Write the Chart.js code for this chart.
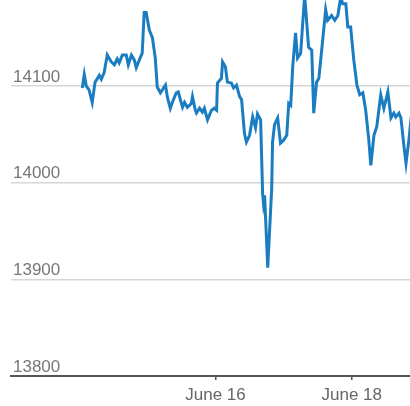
<!DOCTYPE html>
<html>
<head>
<meta charset="utf-8">
<script src="https://cdn.jsdelivr.net/npm/chart.js@4"></script>
<style>
	html, body { margin: 0; padding: 0; background: #fff; }
	#wrap { width: 410px; height: 406px; }
</style>
</head>
<body>
<div id="wrap"><canvas id="priceChart"></canvas></div>
<script>
// hours since June 13 00:00
const hours = [
	25.1, 25.8, 26.5, 27.5, 28.6, 29.6, 31.1, 31.8, 32.8, 33.9, 35.3, 36.4, 37.4, 38.1, 39.2, 40.6,
	41.3, 42.4, 43.4, 44.1, 45.2, 46.2, 46.9, 47.6, 48.7, 49.8, 50.8, 51.5, 52.6, 53.3, 54.4, 55.1,
	56.1, 56.8, 58.2, 58.9, 60.0, 60.4, 61.1, 62.1, 63.5, 63.9, 64.9, 65.3, 66.4, 67.4, 68.1, 69.2,
	70.6, 71.6, 72.4, 72.7, 74.1, 74.5, 75.5, 76.2, 77.6, 78.4, 79.4, 80.5, 81.2, 82.2, 82.9, 84.0,
	85.1, 86.1, 86.8, 87.9, 88.6, 88.9, 89.3, 90.4, 91.8, 92.1, 92.8, 93.9, 94.9, 96.0, 97.1, 97.8,
	98.5, 99.2, 100.2, 100.9, 102.0, 103.4, 104.8, 105.9, 106.6, 107.6, 108.4, 109.4, 110.8, 111.5,
	112.9, 114.0, 115.1, 116.1, 116.8, 117.9, 118.6, 119.6, 120.7, 121.8, 122.8, 123.9, 124.9, 126.0,
	126.7, 127.8, 128.8, 130.2, 131.3, 132.7, 133.8, 134.8, 135.5, 136.6, 137.3, 138.4, 139.1, 140.1, 141.2
];
const prices = [
	14098, 14112, 14100, 14096, 14083, 14104, 14111, 14107, 14114, 14132, 14125, 14122, 14128, 14124, 14132, 14132,
	14122, 14132, 14127, 14119, 14127, 14134, 14176, 14176, 14158, 14150, 14129, 14099, 14093, 14096, 14101, 14088,
	14077, 14083, 14093, 14094, 14082, 14078, 14083, 14078, 14082, 14089, 14075, 14072, 14077, 14073, 14077, 14065,
	14075, 14077, 14075, 14103, 14108, 14125, 14120, 14104, 14103, 14098, 14101, 14089, 14086, 14051, 14042, 14049,
	14068, 14057, 14071, 14065, 13989, 13979, 13987, 13912, 13994, 14042, 14060, 14067, 14041, 14044, 14049, 14082,
	14080, 14120, 14155, 14129, 14134, 14194, 14140, 14137, 14072, 14104, 14108, 14137, 14179, 14168,
	14173, 14168, 14173, 14192, 14185, 14185, 14161, 14161, 14127, 14101, 14091, 14093, 14075, 14044,
	14018, 14049, 14058, 14091, 14077, 14094, 14067, 14072, 14068, 14072, 14067, 14037, 14020, 14044, 14075
];
const tickHours = [72, 120];
const tickLabels = ["June 16", "June 18"];
const yTicks = [13800, 13900, 14000, 14100];

document.addEventListener("DOMContentLoaded", function () {
	const el = document.getElementById("priceChart");

	new Chart(el, {
		type: "line",
		data: {
			datasets: [{
				data: hours.map((h, i) => ({ x: h, y: prices[i] })),
				borderColor: "#1a7dc1",
				borderWidth: 3,
				pointRadius: 0,
				tension: 0,
				fill: false
			}]
		},
		options: {
			responsive: true,
			maintainAspectRatio: false,
			animation: false,
			events: [],
			layout: { padding: { left: 11, top: 0, right: 0, bottom: 0 } },
			plugins: { legend: { display: false }, tooltip: { enabled: false } },
			scales: {
				x: {
					type: "linear",
					min: 0,
					max: 140.5,
					afterBuildTicks: function (scale) {
						scale.ticks = tickHours.map(v => ({ value: v }));
					},
					afterFit: function (scale) {
						scale.height = 30;
						scale.paddingLeft = 0;
						scale.paddingRight = 0;
					},
					grid: {
						drawOnChartArea: false,
						tickLength: 4,
						color: "#555",
						lineWidth: 1.5
					},
					border: { color: "#555", width: 2 },
					ticks: {
						padding: 5,
						maxRotation: 0,
						autoSkip: false,
						color: "#666",
						font: { family: "Liberation Sans", size: 17 },
						callback: function (value) {
							const i = tickHours.indexOf(value);
							return i >= 0 ? tickLabels[i] : "";
						}
					}
				},
				y: {
					min: 13800,
					max: 14189,
					afterBuildTicks: function (scale) {
						scale.ticks = yTicks.map(v => ({ value: v }));
					},
					afterFit: function (scale) {
						scale.width = 0;
						scale.paddingTop = 0;
						scale.paddingBottom = 0;
					},
					grid: {
						drawTicks: false,
						color: "#d6d6d6",
						lineWidth: 1.5
					},
					border: { display: false },
					ticks: {
						mirror: true,
						padding: 2,
						labelOffset: -9,
						color: "#777",
						font: { family: "Liberation Sans", size: 17 },
						callback: function (value) {
							return String(value);
						}
					}
				}
			}
		}
	});
});
</script>
</body>
</html>
